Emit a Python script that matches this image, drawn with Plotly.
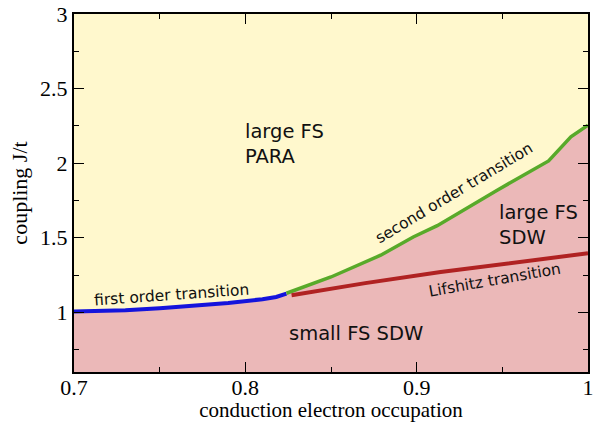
import plotly.graph_objects as go

# first-order transition (blue)
blue_x = [0.700, 0.710, 0.730, 0.750, 0.770, 0.790, 0.810, 0.818, 0.824]
blue_y = [1.005, 1.006, 1.014, 1.028, 1.045, 1.063, 1.088, 1.103, 1.125]

# second-order transition (green)
green_x = [0.824, 0.837, 0.850, 0.879, 0.898, 0.912, 0.947, 0.977, 0.990, 1.000]
green_y = [1.128, 1.180, 1.237, 1.383, 1.505, 1.581, 1.819, 2.015, 2.177, 2.255]

# Lifshitz transition (red)
red_x = [0.827, 0.870, 0.914, 0.960, 1.000]
red_y = [1.114, 1.196, 1.270, 1.336, 1.396]

x_ticks = [0.7, 0.8, 0.9, 1.0]
x_tick_text = ["0.7", "0.8", "0.9", "1"]
y_ticks = [1.0, 1.5, 2.0, 2.5, 3.0]
y_tick_text = ["1", "1.5", "2", "2.5", "3"]

YELLOW = "#fff8cd"
PINK = "#ebb8b8"

fig = go.Figure()

boundary_x = blue_x + green_x[1:]
boundary_y = blue_y + green_y[1:]
fig.add_trace(go.Scatter(x=boundary_x, y=boundary_y, mode="lines",
                         line=dict(width=0, color=PINK), fill="tozeroy",
                         fillcolor=PINK, hoverinfo="skip", showlegend=False))
fig.add_trace(go.Scatter(x=blue_x, y=blue_y, mode="lines",
                         line=dict(color="#1414dc", width=4), showlegend=False))
fig.add_trace(go.Scatter(x=green_x, y=green_y, mode="lines",
                         line=dict(color="#58aa2a", width=3.5), showlegend=False))
fig.add_trace(go.Scatter(x=red_x, y=red_y, mode="lines",
                         line=dict(color="#b02222", width=4), showlegend=False))

sans = "DejaVu Sans"
serif = "Liberation Serif"

def ann(text, x, y, size, angle=0, xanchor="center", align="center"):
    fig.add_annotation(x=x, y=y, xref="x", yref="y", text=text, showarrow=False,
                       textangle=angle, xanchor=xanchor, yanchor="middle", align=align,
                       font=dict(family=sans, size=size, color="#111111"))

ann("first order transition", 0.7568, 1.114, 15.5, angle=-4)
ann("second order transition", 0.922, 1.80, 15.5, angle=-31)
ann("Lifshitz transition", 0.946, 1.215, 15.5, angle=-10)
ann("large FS<br>PARA", 0.7985, 2.129, 19.5, xanchor="left", align="left")
ann("large FS<br>SDW", 0.9469, 1.584, 19.5, xanchor="left", align="left")
ann("small FS SDW", 0.8643, 0.857, 19.5)

axis_common = dict(showline=True, linecolor="black", linewidth=2, mirror="allticks",
                   ticks="inside", ticklen=10, tickwidth=1.2, tickcolor="black",
                   showgrid=False, zeroline=False, automargin=False,
                   tickfont=dict(family=serif, size=22, color="black"),
                   layer="above traces")

fig.update_xaxes(range=[0.7, 1.0], tickvals=x_ticks, ticktext=x_tick_text,
                 ticklabelstandoff=-5,
                 minor=dict(dtick=0.05, tick0=0.7, ticks="inside", ticklen=5,
                            tickwidth=1.2, tickcolor="black", showgrid=False),
                 title=dict(text="conduction electron occupation",
                            font=dict(family=serif, size=21, color="black"), standoff=5),
                 **axis_common)
fig.update_yaxes(range=[0.6, 3.0], tickvals=y_ticks, ticktext=y_tick_text,
                 minor=dict(dtick=0.25, tick0=0.5, ticks="inside", ticklen=5,
                            tickwidth=1.2, tickcolor="black", showgrid=False),
                 title=dict(text="coupling J/t",
                            font=dict(family=serif, size=22, color="black"), standoff=6),
                 **axis_common)

fig.update_layout(width=601, height=422, margin=dict(l=74, r=13, t=14, b=50),
                  plot_bgcolor=YELLOW, paper_bgcolor="white", showlegend=False)

fig.write_html("out.html", config={"displayModeBar": False},
               post_script="document.body.style.margin='0';document.body.style.overflow='hidden';")
